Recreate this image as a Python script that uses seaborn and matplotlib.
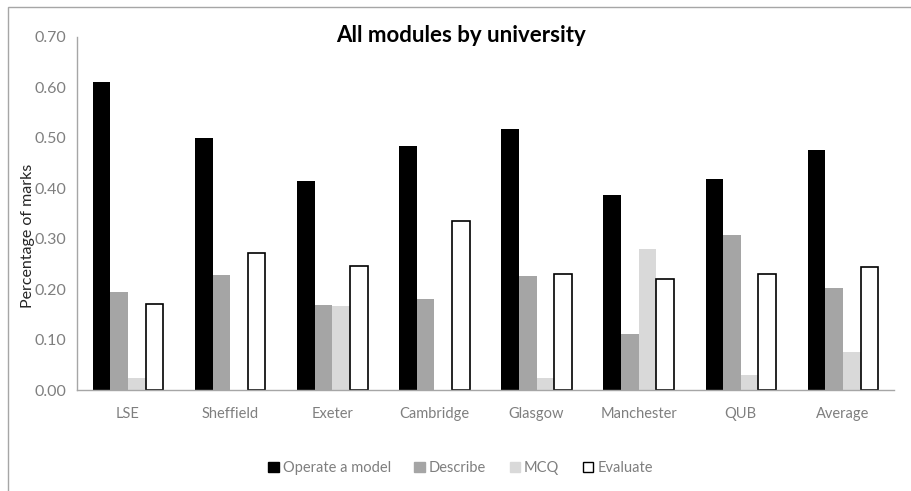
import pandas as pd
import matplotlib.pyplot as plt
import seaborn as sns
from matplotlib.patches import Rectangle, Patch

universities = ['LSE', 'Sheffield', 'Exeter', 'Cambridge', 'Glasgow', 'Manchester', 'QUB', 'Average']
components = ['Operate a model', 'Describe', 'MCQ', 'Evaluate']

operate = [0.611, 0.499, 0.414, 0.483, 0.518, 0.386, 0.418, 0.476]
describe = [0.194, 0.227, 0.168, 0.180, 0.225, 0.110, 0.308, 0.202]
mcq = [0.024, 0.0, 0.166, 0.0, 0.024, 0.279, 0.030, 0.075]
evaluate = [0.170, 0.272, 0.246, 0.334, 0.230, 0.220, 0.230, 0.244]

# long format for seaborn
rows = []
for name, vals in zip(components, [operate, describe, mcq, evaluate]):
    for uni, v in zip(universities, vals):
        rows.append({'University': uni, 'Component': name, 'Share': v})
df = pd.DataFrame(rows)

colors = ['#000000', '#a5a5a5', '#d9d9d9', '#ffffff']
text_grey = '#7f7f7f'

sns.set_style('white')
plt.rcParams['font.family'] = ['Lato', 'DejaVu Sans']

fig = plt.figure(figsize=(9.12, 4.91), dpi=100)
ax = fig.add_axes([77 / 912, 1 - 390 / 491, (894 - 77) / 912, (390 - 36.7) / 491])

sns.barplot(data=df, x='University', y='Share', hue='Component', order=universities,
            hue_order=components, palette=colors, width=0.69, saturation=1,
            linewidth=0, ax=ax, legend=False)

# only the white series gets an outline
for bar in ax.containers[3]:
    bar.set_edgecolor('#000000')
    bar.set_linewidth(1.2)

ax.set_ylim(0, 0.70)
ax.set_xlim(-0.5, len(universities) - 0.5)
ax.set_yticks([i / 10 for i in range(8)])
ax.set_yticklabels([f'{i / 10:.2f}' for i in range(8)], fontsize=11.5, color=text_grey)
ax.tick_params(axis='x', which='major', length=0, labelsize=10.5, labelcolor=text_grey, pad=12)
ax.tick_params(axis='y', length=0, pad=8)
ax.set_xticks([i - 0.5 for i in range(len(universities) + 1)], minor=True)
ax.tick_params(axis='x', which='minor', length=5, color='#a6a6a6', width=1, direction='out')
ax.set_xlabel('')
ax.set_ylabel('Percentage of marks', fontsize=11.5, color='#262626', labelpad=2)
ax.yaxis.set_label_coords(-0.052, 0.435)

for side in ['top', 'right']:
    ax.spines[side].set_visible(False)
for side in ['left', 'bottom']:
    ax.spines[side].set_color('#a6a6a6')
    ax.spines[side].set_linewidth(1)

fig.text(0.505, 1 - 35 / 491, 'All modules by university', ha='center', va='center',
         fontsize=16, fontweight='bold', color='#000000')

handles = [Patch(facecolor=c, edgecolor=('#000000' if i == 3 else c), linewidth=1)
           for i, c in enumerate(colors)]
fig.legend(handles, components, loc='center', bbox_to_anchor=(0.505, 1 - 468 / 491), ncol=4,
           frameon=False, fontsize=10.5, labelcolor=text_grey, handlelength=0.7,
           handleheight=0.7, handletextpad=0.3, columnspacing=1.6)

# outer chart border (left and top visible)
fig.patches.append(Rectangle((8 / 912, -0.1), 1.2, 1 - 7 / 491 + 0.1, transform=fig.transFigure,
                             fill=False, edgecolor='#a6a6a6', linewidth=1))

fig.savefig('out.png', dpi=100)
